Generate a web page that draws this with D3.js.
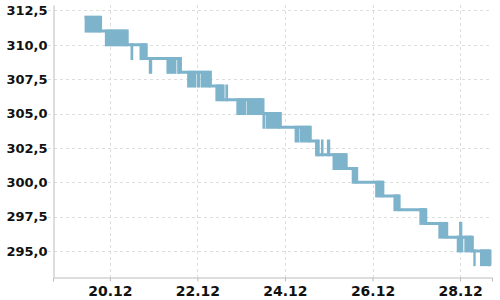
<!DOCTYPE html>
<html>
<head>
<meta charset="utf-8">
<script src="https://cdn.jsdelivr.net/npm/d3@7"></script>
<style>
  body { margin: 0; background: #fff; }
  text { font-family: "DejaVu Sans", sans-serif; fill: #111; }
</style>
</head>
<body>
<div id="chart"></div>
<script>
// level the value sits on from this time until the next one
var steps = [
  ["2023-12-19 10:10", 312],
  ["2023-12-19 18:55", 311],
  ["2023-12-20 09:31", 310],
  ["2023-12-20 19:56", 309],
  ["2023-12-21 14:42", 308],
  ["2023-12-22 07:07", 307],
  ["2023-12-22 14:05", 306],
  ["2023-12-23 11:58", 305],
  ["2023-12-23 21:26", 304],
  ["2023-12-24 13:52", 303],
  ["2023-12-24 17:19", 302],
  ["2023-12-25 09:34", 301],
  ["2023-12-25 15:19", 300],
  ["2023-12-26 05:40", 299],
  ["2023-12-26 14:35", 298],
  ["2023-12-27 05:12", 297],
  ["2023-12-27 16:41", 296],
  ["2023-12-28 06:43", 295],
  ["2023-12-28 16:24", 294],
  ["2023-12-28 17:00", 294]
];

// periods where the value flips between hi and hi - 1
var bands = [
  ["2023-12-19 10:10", "2023-12-19 18:55", 312],
  ["2023-12-19 21:16", "2023-12-20 09:31", 311],
  ["2023-12-20 11:20", "2023-12-20 12:49", 310],
  ["2023-12-20 16:16", "2023-12-20 19:56", 310],
  ["2023-12-20 21:21", "2023-12-20 23:13", 309],
  ["2023-12-21 07:02", "2023-12-21 12:31", 309],
  ["2023-12-21 12:54", "2023-12-21 14:42", 309],
  ["2023-12-21 18:22", "2023-12-21 23:28", 308],
  ["2023-12-21 23:45", "2023-12-22 01:39", 308],
  ["2023-12-22 01:55", "2023-12-22 07:07", 308],
  ["2023-12-22 09:52", "2023-12-22 14:05", 307],
  ["2023-12-22 15:20", "2023-12-22 16:49", 307],
  ["2023-12-22 21:21", "2023-12-23 02:50", 306],
  ["2023-12-23 03:05", "2023-12-23 11:40", 306],
  ["2023-12-23 11:40", "2023-12-23 13:14", 305],
  ["2023-12-23 13:30", "2023-12-23 21:26", 305],
  ["2023-12-24 05:16", "2023-12-24 08:00", 304],
  ["2023-12-24 08:15", "2023-12-24 13:52", 304],
  ["2023-12-24 17:19", "2023-12-24 19:04", 303],
  ["2023-12-24 19:43", "2023-12-24 21:09", 303],
  ["2023-12-24 23:00", "2023-12-25 00:49", 303],
  ["2023-12-25 02:04", "2023-12-25 09:34", 302],
  ["2023-12-25 12:35", "2023-12-25 15:19", 301],
  ["2023-12-26 01:27", "2023-12-26 05:40", 300],
  ["2023-12-26 11:28", "2023-12-26 14:35", 299],
  ["2023-12-27 01:41", "2023-12-27 05:12", 298],
  ["2023-12-27 12:05", "2023-12-27 16:41", 297],
  ["2023-12-27 22:10", "2023-12-28 01:47", 296],
  ["2023-12-27 23:26", "2023-12-28 01:14", 297],
  ["2023-12-28 02:20", "2023-12-28 06:43", 296],
  ["2023-12-28 07:15", "2023-12-28 08:34", 295],
  ["2023-12-28 10:55", "2023-12-28 16:24", 295]
];

var xTicks = ["2023-12-20", "2023-12-22", "2023-12-24", "2023-12-26", "2023-12-28"];
var yTicks = [295, 297.5, 300, 302.5, 305, 307.5, 310, 312.5];
var xRange = ["2023-12-18 16:50", "2023-12-28 17:30"];
var yRange = [293.1, 312.9];

var parseT = d3.timeParse("%Y-%m-%d %H:%M");
var parseD = d3.timeParse("%Y-%m-%d");
var lineColor = "#7eb3cc";

var width = 500, height = 300;
var margin = {top: 5, right: 8, bottom: 23, left: 53};

var svg = d3.select("#chart").append("svg")
  .attr("width", width)
  .attr("height", height);

var x = d3.scaleTime()
  .domain(xRange.map(parseT))
  .range([margin.left, width - margin.right]);

var y = d3.scaleLinear()
  .domain(yRange)
  .range([height - margin.bottom, margin.top]);

var comma = d3.formatLocale({decimal: ",", thousands: " ", grouping: [3], currency: ["", ""]}).format(".1f");

// grid
svg.append("g").selectAll("line.h")
  .data(yTicks)
  .enter().append("line")
  .attr("x1", margin.left - 5)
  .attr("x2", width - margin.right)
  .attr("y1", function(d) { return Math.round(y(d)) + 0.5; })
  .attr("y2", function(d) { return Math.round(y(d)) + 0.5; })
  .attr("stroke", "#ddd")
  .attr("stroke-dasharray", "3,3");

svg.append("g").selectAll("line.v")
  .data(xTicks)
  .enter().append("line")
  .attr("x1", function(d) { return Math.round(x(parseD(d))) + 0.5; })
  .attr("x2", function(d) { return Math.round(x(parseD(d))) + 0.5; })
  .attr("y1", margin.top)
  .attr("y2", height - margin.bottom)
  .attr("stroke", "#ddd")
  .attr("stroke-dasharray", "3,3");

// axes
var xAxis = d3.axisBottom(x)
  .tickValues(xTicks.map(parseD))
  .tickFormat(d3.timeFormat("%d.%m"))
  .tickSize(4)
  .tickPadding(5);

var yAxis = d3.axisLeft(y)
  .tickValues(yTicks)
  .tickFormat(comma)
  .tickSize(0)
  .tickPadding(6);

var gx = svg.append("g")
  .attr("transform", "translate(0," + (height - margin.bottom + 0.5) + ")")
  .call(xAxis);
gx.selectAll("text")
  .attr("font-size", 14)
  .attr("font-weight", "bold")
  .attr("font-family", "DejaVu Sans");

var gy = svg.append("g")
  .attr("transform", "translate(" + (margin.left + 0.5) + ",0)")
  .call(yAxis);
gy.selectAll("text")
  .attr("font-size", 13)
  .attr("font-weight", "bold")
  .attr("font-family", "DejaVu Sans");

svg.selectAll(".domain").attr("stroke", "#bbb");
svg.selectAll(".tick line").attr("stroke", "#bbb");

// bands
svg.append("g").selectAll("rect")
  .data(bands)
  .enter().append("rect")
  .attr("x", function(d) { return x(parseT(d[0])); })
  .attr("width", function(d) { return x(parseT(d[1])) - x(parseT(d[0])); })
  .attr("y", function(d) { return y(d[2]) - 1.5; })
  .attr("height", function(d) { return y(d[2] - 1) - y(d[2]) + 3; })
  .attr("fill", lineColor);

// step line
var line = d3.line()
  .x(function(d) { return x(parseT(d[0])); })
  .y(function(d) { return y(d[1]); })
  .curve(d3.curveStepAfter);

svg.append("path")
  .datum(steps)
  .attr("d", line)
  .attr("fill", "none")
  .attr("stroke", lineColor)
  .attr("stroke-width", 3);
</script>
</body>
</html>
